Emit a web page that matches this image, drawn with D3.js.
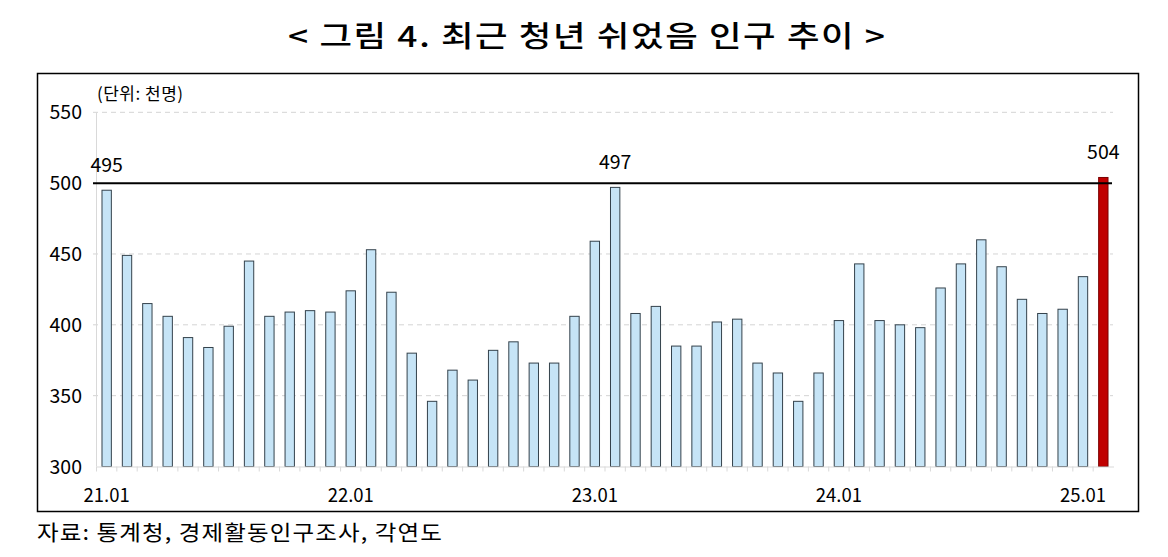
<!DOCTYPE html>
<html>
<head>
<meta charset="utf-8">
<script src="https://cdn.jsdelivr.net/npm/d3@7"></script>
<style>
  body { margin: 0; background: #fff; }
  svg text { font-family: "Noto Sans CJK KR", "Noto Sans", sans-serif; }
</style>
</head>
<body>
<svg id="chart" width="1168" height="557"></svg>
<script>
// months 21.01 .. 25.02
const years = ['21', '22', '23', '24', '25'];
const months = [];
years.forEach(y => {
  for (let m = 1; m <= 12; m++) {
    if (y === '25' && m > 2) break;
    months.push(y + '.' + String(m).padStart(2, '0'));
  }
});

// 청년 쉬었음 인구 (천명)
const values = [
  495, 449, 415, 406, 391, 384, 399, 445, 406, 409, 410, 409,
  424, 453, 423, 380, 346, 368, 361, 382, 388, 373, 373, 406,
  459, 497, 408, 413, 385, 385, 402, 404, 373, 366, 346, 366,
  403, 443, 403, 400, 398, 426, 443, 460, 441, 418, 408, 411,
  434, 504
];

const tickLabels = ['21.01', '22.01', '23.01', '24.01', '25.01'];
const yTicks = [300, 350, 400, 450, 500, 550];
const labelled = ['21.01', '23.02', '25.02'];
const refLine = 500;

const svg = d3.select('#chart');

// title (reference font is wider than Noto, so stretch it a little)
svg.append('text')
  .attr('transform', 'translate(288,47) scale(1.22,1)')
  .attr('font-size', 29).attr('font-weight', 500)
  .attr('textLength', 597 / 1.22).attr('lengthAdjust', 'spacing')
  .attr('fill', '#000')
  .text('< 그림 4. 최근 청년 쉬었음 인구 추이 >');

// frame
svg.append('rect')
  .attr('x', 37.5).attr('y', 73.5)
  .attr('width', 1101).attr('height', 438)
  .attr('fill', 'none').attr('stroke', '#000').attr('stroke-width', 1.5);

const x = d3.scaleBand()
  .domain(months)
  .range([96.5, 1113.5])
  .paddingInner(0.54)
  .paddingOuter(0.27);

const y = d3.scaleLinear()
  .domain([300, 550])
  .range([466.5, 112.3]);

// grid
svg.append('g')
  .selectAll('line')
  .data(yTicks.filter(t => t !== 300 && t !== refLine))
  .join('line')
  .attr('x1', 93).attr('x2', 1113)
  .attr('y1', d => y(d)).attr('y2', d => y(d))
  .attr('stroke', '#d4d4d4').attr('stroke-dasharray', '5,4');

// y axis line
svg.append('line')
  .attr('x1', 96.5).attr('x2', 96.5)
  .attr('y1', y(550)).attr('y2', y(300))
  .attr('stroke', '#d9d9d9');

// y labels
svg.append('g')
  .selectAll('text')
  .data(yTicks)
  .join('text')
  .attr('x', 82).attr('y', d => y(d))
  .attr('dy', '0.36em')
  .attr('text-anchor', 'end')
  .attr('font-size', 19.5)
  .attr('fill', '#000')
  .text(d => d);

svg.append('text')
  .attr('x', 97).attr('y', 100)
  .attr('font-size', 17)
  .attr('textLength', 86).attr('lengthAdjust', 'spacing')
  .attr('fill', '#000')
  .text('(단위: 천명)');

// bars
svg.append('g')
  .selectAll('rect')
  .data(values)
  .join('rect')
  .attr('x', (d, i) => x(months[i]))
  .attr('y', d => y(d))
  .attr('width', x.bandwidth())
  .attr('height', d => y(300) - y(d))
  .attr('fill', (d, i) => i === values.length - 1 ? '#c00000' : '#c6e4f6')
  .attr('stroke', (d, i) => i === values.length - 1 ? '#7a0000' : '#34424c')
  .attr('stroke-width', 1);

// baseline and ticks
const xAxis = d3.axisBottom(x).tickSize(0).tickFormat('');
const gx = svg.append('g')
  .attr('transform', `translate(0,${y(300)})`)
  .call(xAxis);
gx.select('.domain').attr('stroke', '#d9d9d9');

const gap = (x.step() - x.bandwidth()) / 2;
svg.append('g')
  .selectAll('line')
  .data(months)
  .join('line')
  .attr('x1', d => x(d) - gap)
  .attr('x2', d => x(d) - gap)
  .attr('y1', y(300)).attr('y2', y(300) + 5)
  .attr('stroke', '#d9d9d9');

svg.append('g')
  .selectAll('text')
  .data(tickLabels)
  .join('text')
  .attr('x', d => x(d) + x.bandwidth() / 2)
  .attr('y', 502)
  .attr('text-anchor', 'middle')
  .attr('font-size', 18.5)
  .attr('fill', '#000')
  .text(d => d);

// 500 reference line
svg.append('line')
  .attr('x1', 93).attr('x2', 1112)
  .attr('y1', y(refLine)).attr('y2', y(refLine))
  .attr('stroke', '#000').attr('stroke-width', 2);

// value labels
svg.append('g')
  .selectAll('text')
  .data(labelled)
  .join('text')
  .attr('x', d => x(d) + x.bandwidth() / 2)
  .attr('y', d => y(values[months.indexOf(d)]) - 18)
  .attr('text-anchor', 'middle')
  .attr('font-size', 19.5)
  .attr('fill', '#000')
  .text(d => values[months.indexOf(d)]);

// source
svg.append('text')
  .attr('transform', 'translate(37,540) scale(1.12,1)')
  .attr('font-size', 21)
  .attr('textLength', 405 / 1.12).attr('lengthAdjust', 'spacing')
  .attr('fill', '#000')
  .text('자료: 통계청, 경제활동인구조사, 각연도');
</script>
</body>
</html>
